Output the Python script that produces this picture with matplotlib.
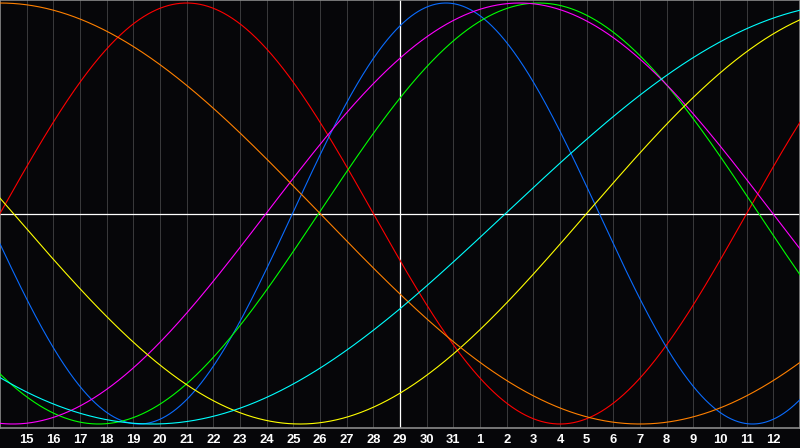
import matplotlib
matplotlib.use("Agg")
import matplotlib.pyplot as plt
import numpy as np

# day labels along the bottom (one per grid line)
days = list(range(15, 32)) + list(range(1, 13))
today = 29

# cycles: period in days and the slot where each curve crosses zero going up
periods = [28, 23, 33, 38, 43, 48, 53]
zero_up = [0.0, 10.97, 11.95, 9.98, 22.0, -12.0, 18.96]
colors = ["#ff0000", "#0a6cff", "#00ff00", "#ff00ff", "#ffff00", "#ff8000", "#00ffff"]

BG = "#060609"

fig = plt.figure(figsize=(8, 4.48), dpi=100, facecolor=BG)
ax = fig.add_axes([0, 1 - 428 / 448, 1, 428 / 448])
ax.set_facecolor(BG)

n_slots = len(days) + 1
ax.set_xlim(0, n_slots)
ax.set_ylim(-1.019, 1.0143)

slots = np.arange(1, n_slots)
for s in slots:
    ax.axvline(s, color="#38383a", lw=0.75, zorder=1)

ax.axhline(0, color="white", lw=0.9, zorder=2)
ax.axvline(slots[days.index(today)], color="white", lw=0.9, zorder=2)

x = np.linspace(0, n_slots, 1600)
for p, z, c in zip(periods, zero_up, colors):
    ax.plot(x, np.sin(2 * np.pi * (x - z) / p), color=c, lw=0.8, zorder=3)

ax.set_xticks(slots, [str(d) for d in days])
ax.set_yticks([])
ax.tick_params(axis="x", length=0, pad=4.5, colors="white")
for lab in ax.get_xticklabels():
    lab.set_fontfamily("Liberation Sans")
    lab.set_fontweight("bold")
    lab.set_fontsize(9.4)
    lab.set_color("white")

for sp in ax.spines.values():
    sp.set_color("#8a8a8a")
    sp.set_linewidth(1.2)

fig.savefig("out.png", dpi=100, facecolor=BG)
